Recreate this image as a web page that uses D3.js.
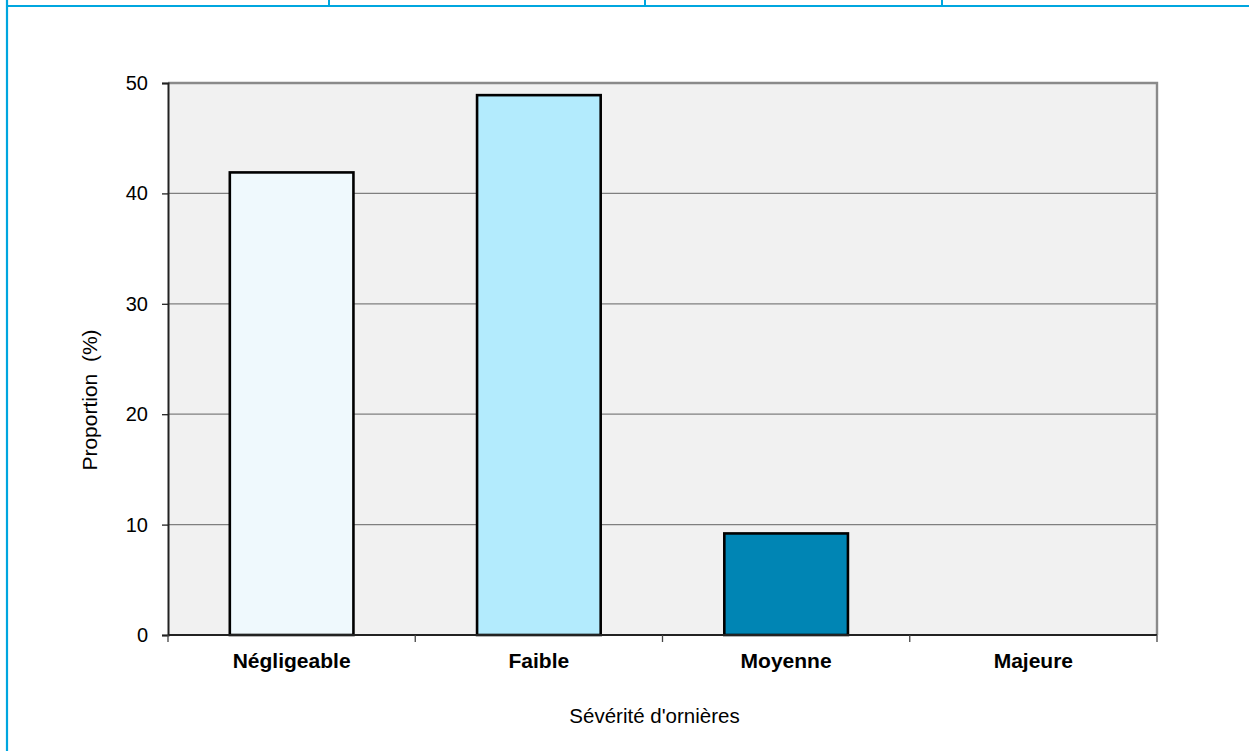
<!DOCTYPE html>
<html>
<head>
<meta charset="utf-8">
<script src="https://cdn.jsdelivr.net/npm/d3@7"></script>
<style>
  html, body { margin: 0; padding: 0; background: #ffffff; }
  svg { display: block; font-family: "Liberation Sans", Arial, sans-serif; }
</style>
</head>
<body>
<svg id="chart" width="1249" height="751"></svg>
<script>
// Rut severity distribution
const categories = ["Négligeable", "Faible", "Moyenne", "Majeure"];
const proportions = [41.9, 48.9, 9.2, 0];
const barColors = ["#eff9fd", "#b3ebfd", "#0085b4", "#0085b4"];
const yTicks = [0, 10, 20, 30, 40, 50];
const yTitle = "Proportion  (%)";
const xTitle = "Sévérité d'ornières";

(function () {
  const svg = d3.select("#chart");
  const W = 1249, H = 751;

  // Page frame
  const frame = svg.append("g");
  const frameColor = "#00a6df";
  frame.append("line").attr("x1", 7).attr("x2", 7).attr("y1", 0).attr("y2", H)
    .attr("stroke", frameColor).attr("stroke-width", 2.2);
  frame.append("line").attr("x1", 6).attr("x2", W).attr("y1", 6).attr("y2", 6)
    .attr("stroke", frameColor).attr("stroke-width", 2.2);
  [329, 645, 942].forEach(xx => {
    frame.append("line").attr("x1", xx).attr("x2", xx).attr("y1", 0).attr("y2", 6)
      .attr("stroke", frameColor).attr("stroke-width", 2);
  });

  // Plot area
  const pLeft = 168, pRight = 1157, pTop = 83, pBottom = 635;

  const x = d3.scaleBand().domain(categories).range([pLeft, pRight]).paddingInner(0).paddingOuter(0);
  const y = d3.scaleLinear().domain([0, 50]).range([pBottom, pTop]);

  svg.append("rect")
    .attr("x", pLeft).attr("y", pTop)
    .attr("width", pRight - pLeft).attr("height", pBottom - pTop)
    .attr("fill", "#f1f1f1");

  // Horizontal gridlines
  svg.append("g")
    .selectAll("line")
    .data(yTicks.filter(t => t > 0 && t < 50))
    .join("line")
    .attr("x1", pLeft).attr("x2", pRight)
    .attr("y1", d => y(d)).attr("y2", d => y(d))
    .attr("stroke", "#7f7f7f").attr("stroke-width", 1.2);

  // Plot border (top and right)
  svg.append("path")
    .attr("d", `M${pLeft},${y(50)}H${pRight}V${pBottom}`)
    .attr("fill", "none").attr("stroke", "#8a8a8a").attr("stroke-width", 2.4);

  // Bars
  const barW = x.step() * 0.5;
  svg.append("g")
    .selectAll("rect")
    .data(categories.map((c, i) => ({ c, v: proportions[i], col: barColors[i] })).filter(d => d.v > 0))
    .join("rect")
    .attr("x", d => x(d.c) + x.bandwidth() / 2 - barW / 2)
    .attr("y", d => y(d.v))
    .attr("width", barW)
    .attr("height", d => y(0) - y(d.v))
    .attr("fill", d => d.col)
    .attr("stroke", "#000").attr("stroke-width", 2.6);

  // Y axis
  const yAxis = svg.append("g")
    .attr("transform", `translate(${pLeft},0)`)
    .call(d3.axisLeft(y).tickValues(yTicks).tickSize(6).tickPadding(14).tickFormat(d3.format("d")));
  yAxis.select(".domain").attr("stroke", "#222").attr("stroke-width", 2);
  yAxis.selectAll(".tick line").attr("stroke", "#222").attr("stroke-width", 1.3);
  yAxis.selectAll(".tick text")
    .attr("font-size", 20).attr("fill", "#000")
    .attr("font-family", "'Liberation Sans', Arial, sans-serif");

  // X axis: ticks at category boundaries
  const xAxisG = svg.append("g");
  xAxisG.append("line")
    .attr("x1", pLeft).attr("x2", pRight).attr("y1", pBottom).attr("y2", pBottom)
    .attr("stroke", "#222").attr("stroke-width", 2.2);
  const bounds = categories.map(c => x(c)).concat([x(categories[categories.length - 1]) + x.bandwidth()]);
  xAxisG.selectAll("line.tk")
    .data(bounds)
    .join("line").attr("class", "tk")
    .attr("x1", d => d).attr("x2", d => d)
    .attr("y1", pBottom).attr("y2", pBottom + 7)
    .attr("stroke", "#444").attr("stroke-width", 1.3);
  xAxisG.selectAll("text")
    .data(categories)
    .join("text")
    .attr("x", d => x(d) + x.bandwidth() / 2)
    .attr("y", 668)
    .attr("text-anchor", "middle")
    .attr("font-size", 21).attr("font-weight", "bold").attr("fill", "#000")
    .text(d => d);

  // Axis titles
  svg.append("text")
    .attr("x", (pLeft + pRight) / 2 - 8).attr("y", 723)
    .attr("text-anchor", "middle")
    .attr("font-size", 20.5).attr("fill", "#000")
    .text(xTitle);

  svg.append("text")
    .attr("transform", "translate(97,400) rotate(-90)")
    .attr("text-anchor", "middle")
    .attr("font-size", 21).attr("fill", "#000")
    .attr("xml:space", "preserve")
    .style("white-space", "pre")
    .text(yTitle);
})();
</script>
</body>
</html>
